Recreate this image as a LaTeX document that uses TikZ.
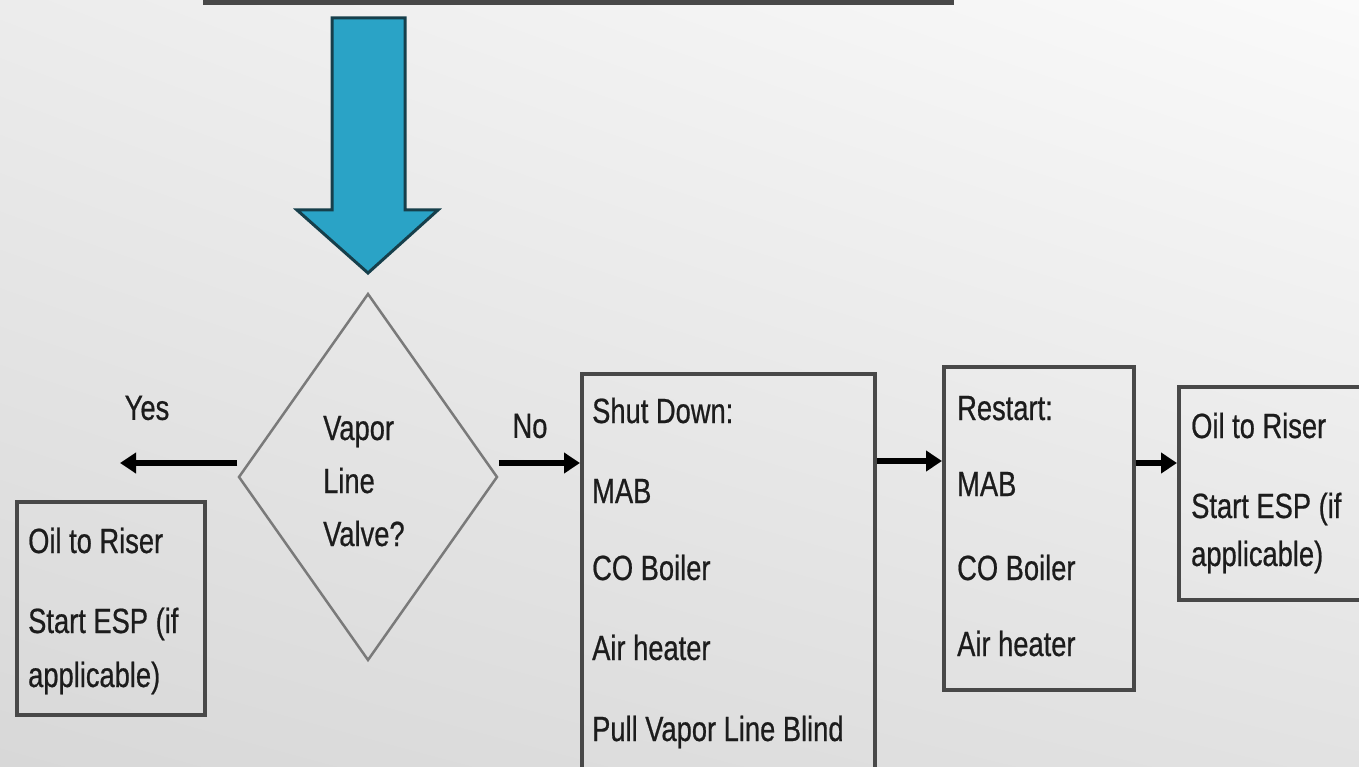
\documentclass[tikz,border=0pt]{standalone}
\usepackage{fontspec}
\newfontfamily\nar[FakeStretch=0.78,FakeBold=0.6]{Liberation Sans}
\usetikzlibrary{arrows.meta,shapes.geometric,shadings}
\definecolor{boxline}{HTML}{484848}
\definecolor{dialine}{HTML}{7A7A7A}
\definecolor{teal}{HTML}{2AA3C6}
\definecolor{tealdark}{HTML}{163F4B}
\definecolor{txt}{HTML}{1C1C1C}
\definecolor{bgul}{HTML}{ECECEC}
\definecolor{bgur}{HTML}{FAFAFA}
\definecolor{bgll}{HTML}{D8D8D8}
\definecolor{bglr}{HTML}{E2E2E2}
\tikzset{
  box/.style={draw=boxline, line width=3.5pt, inner sep=0pt, anchor=north west},
  dia/.style={diamond, draw=dialine, line width=2.5pt, inner sep=0pt, minimum width=259pt, minimum height=367pt},
  tx/.style={anchor=base west, inner sep=0pt, text=txt, font=\nar\fontsize{35}{38}\selectfont},
  arr/.style={line width=5.5pt, -{Triangle[length=16pt,width=20pt]}}
}
\begin{document}
\begin{tikzpicture}[x=1pt,y=-1pt]
\useasboundingbox (0,0) rectangle (1359,767);
\clip (0,0) rectangle (1359,767);
\shade[upper left=bgul, upper right=bgur, lower left=bgll, lower right=bglr]
  (0,0) rectangle (1359,767);
% top box (cut off)
\node[box, line width=4.5pt, minimum width=746pt, minimum height=60pt, anchor=south west] (top) at (203,5) {};
% big teal arrow
\filldraw[fill=teal, draw=tealdark, line width=3pt, line join=miter]
  (332,18) -- (405,18) -- (405,210) -- (438,210) -- (368,273) -- (297,210) -- (332,210) -- cycle;
% diamond
\node[dia] (dec) at (368,477) {};
\node[tx] (d1) at (323,440) {Vapor};
\node[tx] (d2) at (323,493) {Line};
\node[tx] (d3) at (323,546) {Valve?};
% left box
\node[box, minimum width=188pt, minimum height=213pt] (lb) at (15,500) {};
\node[tx] (l1) at (28,553) {Oil to Riser};
\node[tx] (l2) at (28,633) {Start ESP (if};
\node[tx] (l3) at (28,687) {applicable)};
% shut down box
\node[box, minimum width=293pt, minimum height=430pt] (sd) at (580,372) {};
\node[tx] (s1) at (592,423) {Shut Down:};
\node[tx] (s2) at (592,503) {MAB};
\node[tx] (s3) at (592,580) {CO Boiler};
\node[tx] (s4) at (592,660) {Air heater};
\node[tx] (s5) at (592,741) {Pull Vapor Line Blind};
% restart box
\node[box, minimum width=190pt, minimum height=323pt] (rs) at (942,365) {};
\node[tx] (r1) at (957,420) {Restart:};
\node[tx] (r2) at (957,496) {MAB};
\node[tx] (r3) at (957,580) {CO Boiler};
\node[tx] (r4) at (957,656) {Air heater};
% right box (cut off)
\node[box, minimum width=220pt, minimum height=213pt] (rb) at (1177,385) {};
\node[tx] (o1) at (1191,438) {Oil to Riser};
\node[tx] (o2) at (1191,518) {Start ESP (if};
\node[tx] (o3) at (1191,566) {applicable)};
% labels
\node[tx, anchor=center] (yes) at (147,408) {Yes};
\node[tx, anchor=center] (no) at (530,426) {No};
% connectors
\coordinate (yesend) at (120,463);
\coordinate (ya) at (0,463);
\coordinate (yb) at (0,461);
\coordinate (yc) at (0,463);
\draw[arr] (dec.west |- ya) -- (yesend);
\draw[arr] (dec.east |- ya) -- (sd.west |- ya);
\draw[arr] (sd.east |- yb) -- (rs.west |- yb);
\draw[arr] (rs.east |- yc) -- (rb.west |- yc);
\end{tikzpicture}
\end{document}
